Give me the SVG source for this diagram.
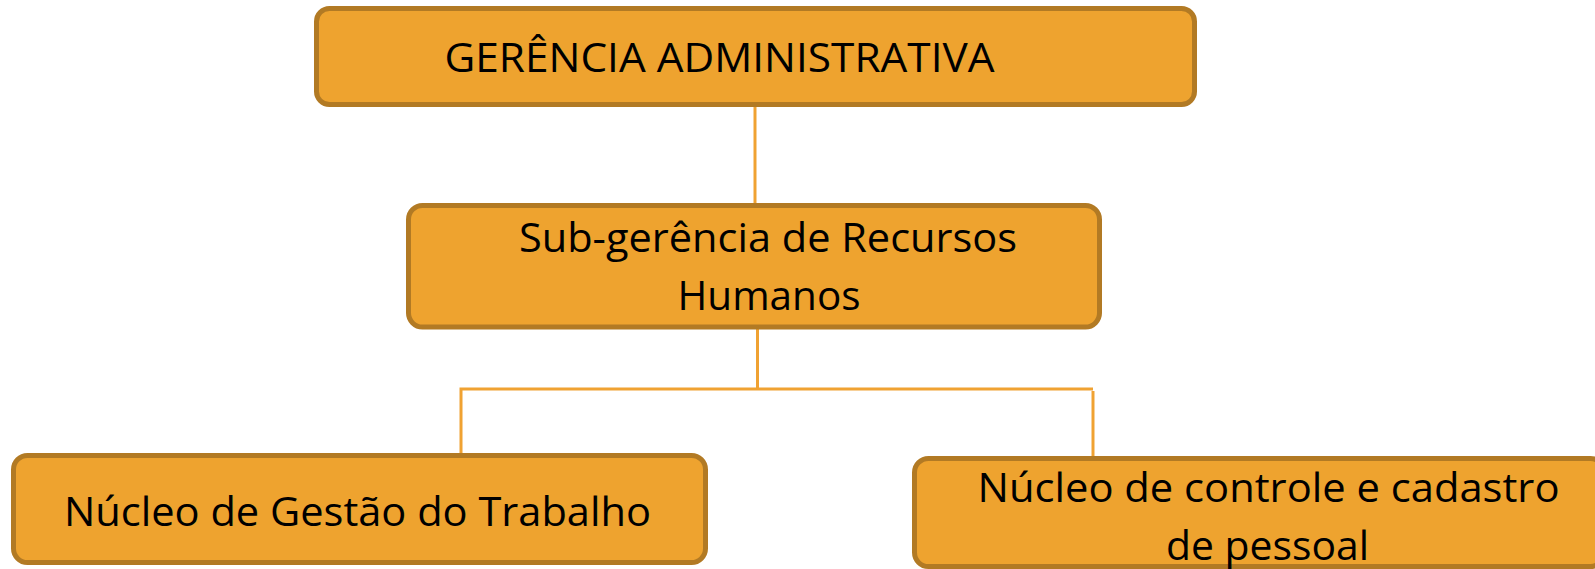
<svg xmlns="http://www.w3.org/2000/svg" width="1595" height="569" viewBox="0 0 1595 569">
<style>
.box{fill:#EEA32F;stroke:#B27A24;stroke-width:5}
.lbl{font-family:"Open Sans","Liberation Sans",sans-serif;font-size:41px;fill:#000}
.conn{fill:none;stroke:#F0A232;stroke-width:3}
</style>
<rect width="1595" height="569" fill="#fff"/>
<g id="connectors">
<line class="conn" x1="755" y1="106" x2="755" y2="204"/>
<line class="conn" x1="757.5" y1="328" x2="757.5" y2="389"/>
<polyline class="conn" points="461,454 461,389 1093,389"/>
<line class="conn" x1="1093" y1="391" x2="1093" y2="458"/>
</g>
<g id="node-gerencia">
<rect class="box" x="316.5" y="8.5" width="878" height="96" rx="13"/>
<text class="lbl" x="444.5" y="71.7" textLength="550" lengthAdjust="spacingAndGlyphs">GERÊNCIA ADMINISTRATIVA</text>
</g>
<g id="node-subgerencia">
<rect class="box" x="408.5" y="205.5" width="691" height="121.5" rx="14"/>
<text class="lbl" x="519" y="251.7" textLength="498" lengthAdjust="spacingAndGlyphs">Sub-gerência de Recursos</text>
<text class="lbl" x="677.5" y="310" textLength="183" lengthAdjust="spacingAndGlyphs">Humanos</text>
</g>
<g id="node-gestao">
<rect class="box" x="13.5" y="455.5" width="692" height="107" rx="14"/>
<text class="lbl" x="64" y="526" textLength="587" lengthAdjust="spacingAndGlyphs">Núcleo de Gestão do Trabalho</text>
</g>
<g id="node-controle">
<rect class="box" x="914.5" y="458.5" width="690" height="108" rx="14"/>
<text class="lbl" x="977.5" y="501.7" textLength="582" lengthAdjust="spacingAndGlyphs">Núcleo de controle e cadastro</text>
<text class="lbl" x="1166" y="560" textLength="203" lengthAdjust="spacingAndGlyphs">de pessoal</text>
</g>
</svg>
